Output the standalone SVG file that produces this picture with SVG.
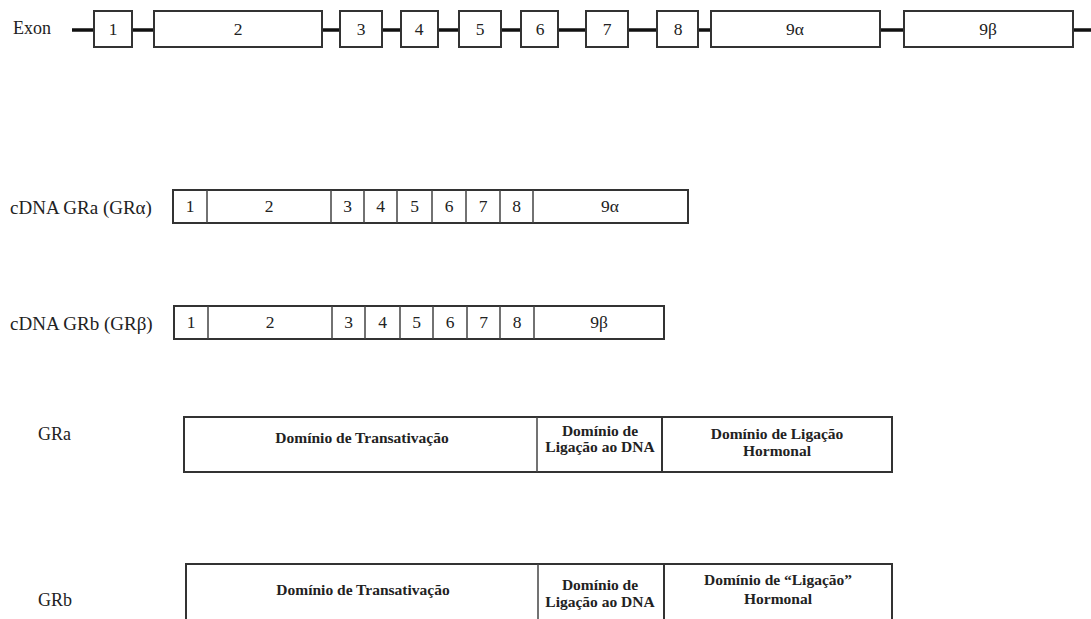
<svg xmlns="http://www.w3.org/2000/svg" width="1091" height="619" viewBox="0 0 1091 619">
<style>
  .bx { fill: #fff; stroke: #333; stroke-width: 2; }
  .dv { stroke: #444; stroke-width: 1.5; fill: none; }
  .lbl { font-family: 'Liberation Serif', 'DejaVu Serif', serif; font-size: 18px; fill: #222; }
  .wide { font-size: 19px; }
  .num { font-family: 'Liberation Serif', 'DejaVu Serif', serif; font-size: 17.5px; fill: #222; text-anchor: middle; }
  .dom { font-family: 'Liberation Serif', 'DejaVu Serif', serif; font-size: 15.5px; font-weight: bold; fill: #222; text-anchor: middle; }
</style>
<rect width="1091" height="619" fill="#fff"/>

<g id="connectors">
  <line x1="72" y1="30" x2="1091" y2="30" stroke="#111" stroke-width="3.5"/>
</g>

<g id="exon-row">
  <text class="lbl" x="13" y="34">Exon</text>
  <g id="exon1"><rect class="bx" x="94" y="11" width="38" height="36"/><text class="num" x="113" y="35">1</text></g>
  <g id="exon2"><rect class="bx" x="154" y="11" width="168" height="36"/><text class="num" x="238" y="35">2</text></g>
  <g id="exon3"><rect class="bx" x="340" y="11" width="42" height="36"/><text class="num" x="361" y="35">3</text></g>
  <g id="exon4"><rect class="bx" x="401" y="11" width="37" height="36"/><text class="num" x="419" y="35">4</text></g>
  <g id="exon5"><rect class="bx" x="459" y="11" width="42" height="36"/><text class="num" x="480" y="35">5</text></g>
  <g id="exon6"><rect class="bx" x="521" y="11" width="37" height="36"/><text class="num" x="540" y="35">6</text></g>
  <g id="exon7"><rect class="bx" x="586" y="11" width="42" height="36"/><text class="num" x="607" y="35">7</text></g>
  <g id="exon8"><rect class="bx" x="657" y="11" width="41" height="36"/><text class="num" x="678" y="35">8</text></g>
  <g id="exon9a"><rect class="bx" x="711" y="11" width="169" height="36"/><text class="num" x="795" y="35">9α</text></g>
  <g id="exon9b"><rect class="bx" x="904" y="11" width="169" height="36"/><text class="num" x="988" y="35">9β</text></g>
</g>

<g id="cdna-gra">
  <text class="lbl wide" x="10" y="214">cDNA GRa (GRα)</text>
  <rect class="bx" x="173" y="190" width="515" height="33"/>
  <path class="dv" d="M207 190V223M331 190V223M364 190V223M397 190V223M432 190V223M466 190V223M500 190V223M533 190V223"/>
  <text class="num" x="190" y="212">1</text>
  <text class="num" x="269" y="212">2</text>
  <text class="num" x="347.500" y="212">3</text>
  <text class="num" x="380.500" y="212">4</text>
  <text class="num" x="414.500" y="212">5</text>
  <text class="num" x="449" y="212">6</text>
  <text class="num" x="483" y="212">7</text>
  <text class="num" x="516.500" y="212">8</text>
  <text class="num" x="610" y="212">9α</text>
</g>

<g id="cdna-grb">
  <text class="lbl wide" x="10" y="330">cDNA GRb (GRβ)</text>
  <rect class="bx" x="174" y="306" width="490" height="33"/>
  <path class="dv" d="M208 306V339M332 306V339M365 306V339M400 306V339M433 306V339M467 306V339M500 306V339M534 306V339"/>
  <text class="num" x="191" y="328">1</text>
  <text class="num" x="270" y="328">2</text>
  <text class="num" x="348.500" y="328">3</text>
  <text class="num" x="382.500" y="328">4</text>
  <text class="num" x="416.500" y="328">5</text>
  <text class="num" x="450" y="328">6</text>
  <text class="num" x="483.500" y="328">7</text>
  <text class="num" x="517" y="328">8</text>
  <text class="num" x="599" y="328">9β</text>
</g>

<g id="gra">
  <text class="lbl" x="38" y="440">GRa</text>
  <rect class="bx" x="184" y="417" width="708" height="55"/>
  <path class="dv" d="M537 417V472"/>
  <path d="M662 417V472" stroke="#333" stroke-width="2"/>
  <text class="dom" x="362" y="443">Domínio de Transativação</text>
  <text class="dom" x="600" y="436">Domínio de</text>
  <text class="dom" x="600" y="452">Ligação ao DNA</text>
  <text class="dom" x="777" y="439">Domínio de Ligação</text>
  <text class="dom" x="777" y="456">Hormonal</text>
</g>

<g id="grb">
  <text class="lbl" x="38" y="606">GRb</text>
  <rect class="bx" x="186" y="564" width="706" height="80"/>
  <path class="dv" d="M538 564V619"/>
  <path d="M664 564V619" stroke="#333" stroke-width="2"/>
  <text class="dom" x="363" y="595">Domínio de Transativação</text>
  <text class="dom" x="600" y="590">Domínio de</text>
  <text class="dom" x="600" y="607">Ligação ao DNA</text>
  <text class="dom" x="778" y="585">Domínio de “Ligação”</text>
  <text class="dom" x="778" y="604">Hormonal</text>
</g>
</svg>
